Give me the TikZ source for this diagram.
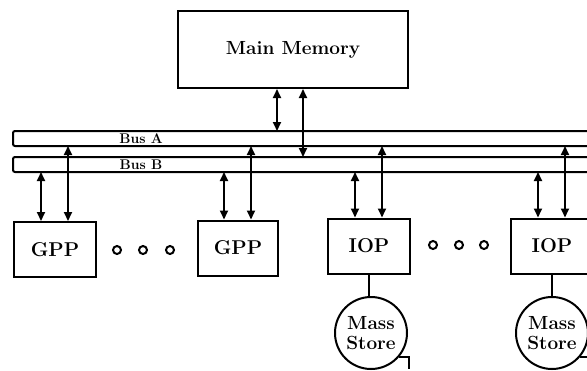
\documentclass[tikz,border=0pt]{standalone}
\usepackage{fontspec}
\usetikzlibrary{arrows.meta}

\begin{document}
\begin{tikzpicture}[x=1pt,y=-1pt,line width=2pt,
    box/.style={draw,minimum height=55pt,font=\fontsize{20}{22}\selectfont\bfseries},
    busbar/.style={minimum width=573pt,minimum height=13pt,inner sep=0pt},
    buslabel/.style={inner sep=0pt,font=\fontsize{14}{14}\selectfont\bfseries},
    tape/.style={draw,circle,minimum size=72pt,inner sep=0pt,align=center,
      font=\fontsize{19}{20}\selectfont\bfseries},
    dbl/.style={{Triangle[length=9pt,width=8pt]}-{Triangle[length=9pt,width=8pt]}},
    dotc/.style={line width=2pt}]
  \useasboundingbox (0,0) rectangle (587,370);
  \node[box,minimum width=230pt,minimum height=77pt,font=\fontsize{19}{21}\selectfont\bfseries] (mem) at (293,49.5) {Main Memory};
  \node[busbar] (busA) at (300.5,138.5) {};
  \node[busbar] (busB) at (300.5,164.5) {};
  \draw[rounded corners=2pt] (busA.north east) -- (busA.north west) -- (busA.south west) -- (busA.south east);
  \draw[rounded corners=2pt] (busB.north east) -- (busB.north west) -- (busB.south west) -- (busB.south east);
  \node[buslabel] (labA) at (141,139) {Bus A};
  \node[buslabel] (labB) at (141,165) {Bus B};
  \node[box,minimum width=82pt] (gpp1) at (55,249.5) {GPP};
  \node[box,minimum width=80pt] (gpp2) at (238,248) {GPP};
  \node[box,minimum width=82pt] (iop1) at (369,246) {IOP};
  \node[box,minimum width=82pt] (iop2) at (552,246) {IOP};
  \node[tape] (ms1) at (371,333) {Mass\\Store};
  \node[tape] (ms2) at (552,333) {Mass\\Store};
  \draw[dbl] ([xshift=-16pt]mem.south) -- ([xshift=-16pt]mem.south |- busA.north);
  \draw[dbl] ([xshift=10pt]mem.south) -- ([xshift=10pt]mem.south |- busB.north);
  \foreach \n in {gpp1,gpp2,iop1,iop2} {
    \draw[dbl] ([xshift=-14pt]\n.north |- busB.south) -- ([xshift=-14pt]\n.north);
    \draw[dbl] ([xshift=13pt]\n.north |- busA.south) -- ([xshift=13pt]\n.north);
  }
  \draw (iop1.south) -- (iop1.south |- ms1.north);
  \draw (iop2.south) -- (iop2.south |- ms2.north);
  \draw (ms1.-40) -- ++(10,0) -- ++(0,12);
  \draw (ms2.-40) -- ++(10,0) -- ++(0,12);
  \foreach \x in {117,143,170} \draw[dotc] (\x,250) circle (4pt);
  \foreach \x in {433,459,484} \draw[dotc] (\x,245) circle (4pt);
\end{tikzpicture}
\end{document}
